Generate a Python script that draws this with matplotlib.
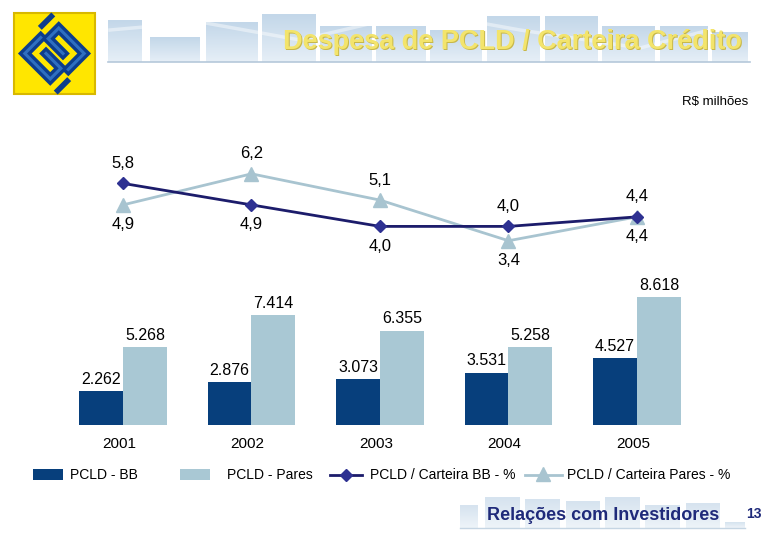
import matplotlib.pyplot as plt
import numpy as np
from matplotlib.colors import LinearSegmentedColormap
from matplotlib.patches import Rectangle
from matplotlib.lines import Line2D
import matplotlib.transforms as mtransforms

plt.rcParams['font.family'] = ['Liberation Sans', 'DejaVu Sans']

# dados
anos = ['2001', '2002', '2003', '2004', '2005']
pcld_bb = [2262, 2876, 3073, 3531, 4527]
pcld_pares = [5268, 7414, 6355, 5258, 8618]
cart_bb = [5.8, 4.9, 4.0, 4.0, 4.4]
cart_pares = [4.9, 6.2, 5.1, 3.4, 4.4]
pos_bb = ['up', 'down', 'down', 'up', 'up']        # posicao do rotulo
pos_pares = ['down', 'up', 'up', 'down', 'down']

cor_bb = '#073F7C'
cor_pares = '#A9C8D4'
cor_lbb = '#1C1C6B'
cor_mbb = '#2E3192'
cor_lpares = '#A8C4D0'

W, H = 780, 540
fig = plt.figure(figsize=(W / 100, H / 100), dpi=100)

# fundo / decoracao em pixels
bg = fig.add_axes([0, 0, 1, 1])
bg.set_xlim(0, W)
bg.set_ylim(H, 0)
bg.axis('off')

grad = LinearSegmentedColormap.from_list('g', ['#C3D7E9', '#E6EFF7'])
grad2 = LinearSegmentedColormap.from_list('g2', ['#D6E3EF', '#EEF4F9'])
g = np.linspace(0, 1, 50).reshape(-1, 1)

def colunas(cols, ybase, cmap):
    for x0, x1, y0 in cols:
        bg.imshow(g, cmap=cmap, extent=(x0, x1, ybase, y0), aspect='auto', zorder=1)

colunas([(108, 142, 20), (150, 200, 37), (206, 258, 22), (262, 316, 14),
         (320, 372, 26), (376, 426, 26), (430, 482, 30), (487, 540, 16),
         (545, 598, 16), (602, 655, 26), (660, 708, 26), (712, 748, 32)], 62, grad)
bg.plot([108, 750], [62, 62], color='#B5C8DA', lw=1.2, zorder=2)
bg.plot([110, 200, 300, 420, 520, 640, 748], [30, 22, 40, 12, 30, 48, 20],
        color='white', lw=2.5, alpha=0.45, zorder=2)

titulo = 'Despesa de PCLD / Carteira Crédito'
bg.text(512, 42, titulo, color='#C8B84A', fontsize=19.5, fontweight='bold',
        ha='center', va='center', zorder=3,
        transform=bg.transData + mtransforms.Affine2D().translate(1, -1))
bg.text(512, 42, titulo, color='#F3E46C', fontsize=19.5, fontweight='bold',
        ha='center', va='center', zorder=4)

# logo
bg.add_patch(Rectangle((14, 13), 81, 81, facecolor='#FFE600', edgecolor='#D8B800',
                       lw=1.5, zorder=3))
rot = mtransforms.Affine2D().scale(30).rotate_deg(45).translate(54.5, 53.5) + bg.transData
pa = [(-0.7, -0.05), (-0.7, 0.7), (0.5, 0.7), (0.5, 0.2), (-0.2, 0.2)]
pb = [(0.7, 0.05), (0.7, -0.7), (-0.5, -0.7), (-0.5, -0.2), (0.2, -0.2)]
for p in (pa, pb):
    xs, ys = zip(*p)
    bg.plot(xs, ys, color='#0D3D8C', lw=7, solid_joinstyle='miter', transform=rot, zorder=4)
    bg.plot(xs, ys, color='#2F6FC0', lw=2.2, solid_joinstyle='miter', transform=rot, zorder=5)
for p in ([(0.95, 0.35), (0.95, 0.8)], [(-0.95, -0.35), (-0.95, -0.8)]):
    xs, ys = zip(*p)
    bg.plot(xs, ys, color='#0D3D8C', lw=4, transform=rot, zorder=4)

bg.text(748, 102, 'R$ milhões', fontsize=9.5, ha='right', va='center', zorder=3)

# rodape
colunas([(460, 478, 505), (485, 520, 497), (525, 560, 499), (566, 600, 501),
         (605, 640, 497), (645, 680, 505), (686, 720, 503), (725, 745, 522)], 528, grad2)
bg.plot([460, 745], [528, 528], color='#C5D5E3', lw=1, zorder=2)
bg.text(603, 515, 'Relações com Investidores', color='#1F2A7A', fontsize=13,
        fontweight='bold', ha='center', va='center', zorder=3)
bg.text(754, 514, '13', color='#1F2A7A', fontsize=10, fontweight='bold',
        ha='center', va='center', zorder=3)

# barras
x = np.arange(len(anos))
larg = 0.342
ax = fig.add_axes([58.75 / W, (H - 425) / H, 642.5 / W, 148.5 / H])
ax.patch.set_alpha(0)
ax.set_xlim(-0.5, 4.5)
ax.set_ylim(0, 10000)
ax.axis('off')
ax.bar(x - larg / 2, pcld_bb, larg, color=cor_bb)
ax.bar(x + larg / 2, pcld_pares, larg, color=cor_pares)
for xs_, vals in ((x - larg / 2, pcld_bb), (x + larg / 2, pcld_pares)):
    for xi, v in zip(xs_, vals):
        ax.annotate(f'{v:,}'.replace(',', '.'), (xi, v), xytext=(0, 3),
                    textcoords='offset points', ha='center', va='bottom', fontsize=11.5)
for xi, a in zip(x, anos):
    ax.text(xi - 0.03, -1300, a, ha='center', va='center', fontsize=11)

# linhas
ax2 = fig.add_axes([58.75 / W, (H - 322) / H, 642.5 / W, 191.2 / H])
ax2.patch.set_alpha(0)
ax2.set_xlim(-0.5, 4.5)
ax2.set_ylim(0, 8)
ax2.axis('off')
ax2.plot(x, cart_pares, color=cor_lpares, lw=2, marker='^', markersize=10, zorder=2)
ax2.plot(x, cart_bb, color=cor_lbb, lw=2, marker='D', markersize=6.5,
         markerfacecolor=cor_mbb, markeredgecolor=cor_mbb, zorder=3)

def rotulos(vals, pos):
    for xi, v, p in zip(x, vals, pos):
        dy = 9 if p == 'up' else -9
        ax2.annotate(f'{v:.1f}'.replace('.', ','), (xi, v), xytext=(0, dy),
                     textcoords='offset points', ha='center',
                     va='bottom' if p == 'up' else 'top', fontsize=12)

rotulos(cart_bb, pos_bb)
rotulos(cart_pares, pos_pares)

# legenda
bg.add_patch(Rectangle((33, 469), 30, 11, facecolor=cor_bb, zorder=3))
bg.text(70, 475, 'PCLD - BB', fontsize=10, va='center', zorder=3)
bg.add_patch(Rectangle((180, 469), 30, 11, facecolor=cor_pares, zorder=3))
bg.text(227, 475, 'PCLD - Pares', fontsize=10, va='center', zorder=3)
bg.add_line(Line2D([330, 362], [475, 475], color=cor_lbb, lw=2, zorder=3))
bg.plot([346], [475], marker='D', markersize=6.5, color=cor_mbb, zorder=4)
bg.text(370, 475, 'PCLD / Carteira BB - %', fontsize=10, va='center', zorder=3)
bg.add_line(Line2D([525, 562], [475, 475], color=cor_lpares, lw=2, zorder=3))
bg.plot([543], [474], marker='^', markersize=10, color=cor_lpares, zorder=4)
bg.text(567, 475, 'PCLD / Carteira Pares - %', fontsize=10, va='center', zorder=3)

fig.savefig('out.png', dpi=100)
